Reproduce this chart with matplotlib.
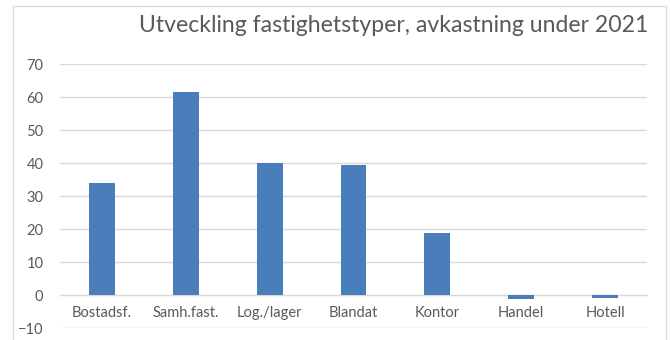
import matplotlib.pyplot as plt
from matplotlib.patches import Rectangle

# Yield per property type during 2021 (%)
categories = ['Bostadsf.', 'Samh.fast.', 'Log./lager', 'Blandat', 'Kontor', 'Handel', 'Hotell']
returns = [34.0, 61.5, 40.1, 39.5, 18.8, -1.2, -0.7]
yticks = [-10, 0, 10, 20, 30, 40, 50, 60, 70]

bar_colour = '#4a7ebb'
grid_colour = '#d9d9d9'
text_colour = '#595959'

plt.rcParams['font.family'] = ['Lato', 'DejaVu Sans']

fig = plt.figure(figsize=(6.7, 3.4), dpi=100)
# light frame around the chart area
fig.patches.append(Rectangle((13 / 670, -0.05), 653 / 670, 1.05 - 6 / 340,
                             transform=fig.transFigure, fill=False,
                             edgecolor=grid_colour, linewidth=1.0))

ax = fig.add_axes([60 / 670, 1 - 328.3 / 340, 587 / 670, 264 / 340])
x = range(len(categories))
ax.bar(x, returns, width=0.31, color=bar_colour, zorder=3)

ax.set_xlim(-0.5, len(categories) - 0.5)
ax.set_ylim(-10, 70)
ax.set_yticks(yticks)
ax.set_xticks(list(x))
ax.set_xticklabels(categories)

ax.yaxis.grid(True, color=grid_colour, linewidth=1.0, zorder=0)
for side in ['top', 'right', 'left']:
    ax.spines[side].set_visible(False)
ax.spines['bottom'].set_position(('data', 0))
ax.spines['bottom'].set_color(grid_colour)
ax.tick_params(axis='both', length=0, colors=text_colour, labelsize=10.5)
ax.tick_params(axis='x', pad=8)
ax.tick_params(axis='y', pad=12)

fig.text(648 / 670, 1 - 25 / 340, 'Utveckling fastighetstyper, avkastning under 2021',
         ha='right', va='center', fontsize=16.6, color=text_colour)

fig.savefig('out.png', dpi=100)
